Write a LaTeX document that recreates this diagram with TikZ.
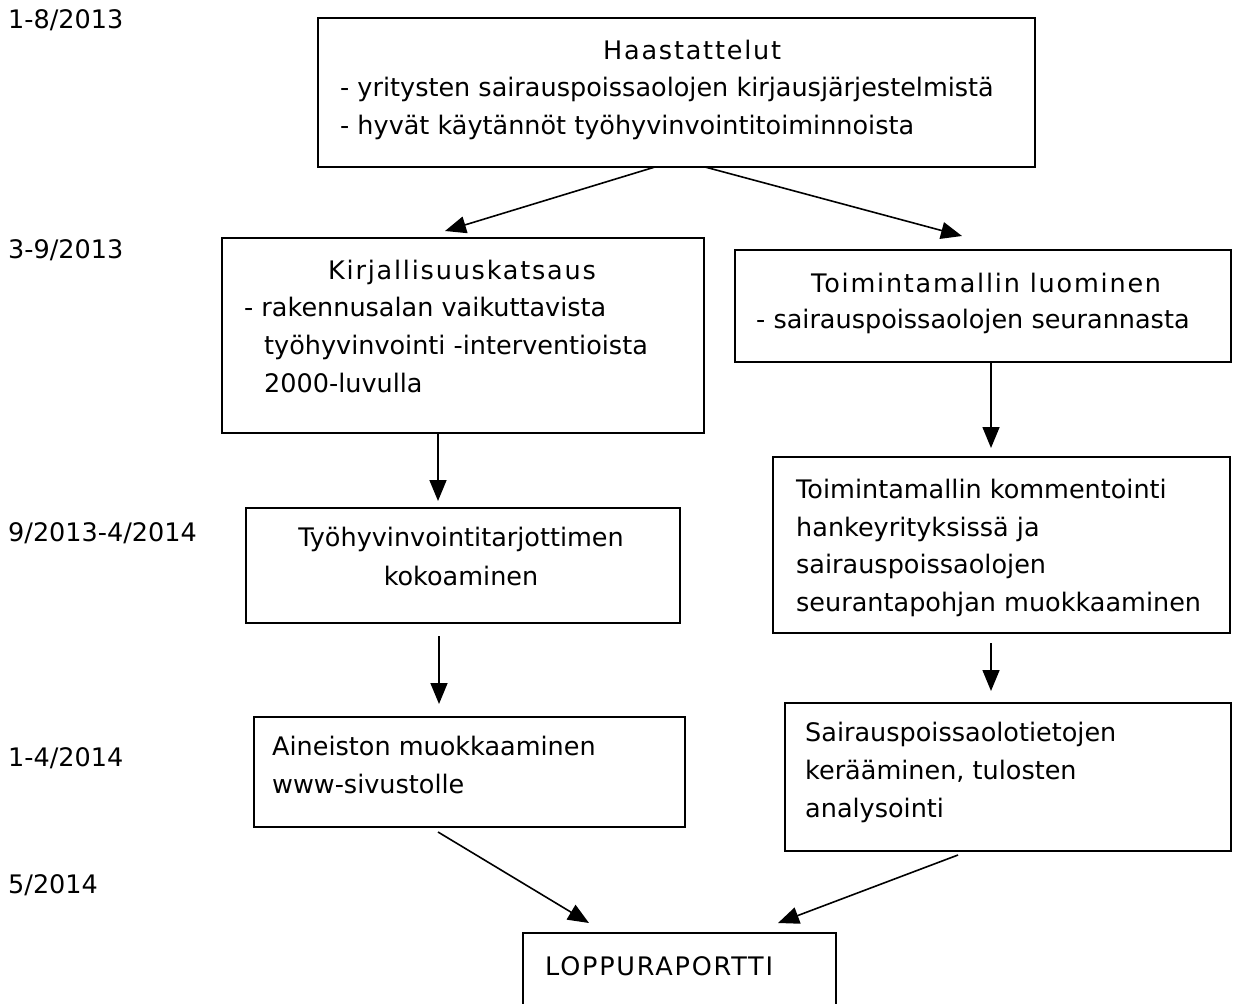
\documentclass[tikz,border=0pt]{standalone}
\usepackage{fontspec}
\setmainfont{DejaVu Sans}
\newfontfamily\spacedfont[LetterSpace=7]{DejaVu Sans}
\usetikzlibrary{arrows.meta,fit}
\begin{document}
\begin{tikzpicture}[x=1pt,y=-1pt,
  box/.style={draw=black,line width=2pt,inner sep=0pt},
  txt/.style={anchor=base west,inner sep=0pt,font=\fontsize{25.5}{30}\selectfont},
  ttl/.style={anchor=base west,inner sep=0pt,font=\spacedfont\fontsize{25.5}{30}\selectfont},
  ctxt/.style={anchor=base,inner sep=0pt,font=\fontsize{25.5}{30}\selectfont},
  arr/.style={line width=1.6pt,-{Triangle[length=21pt,width=17pt]}}]
\useasboundingbox (0,0) rectangle (1241,1003);
% date labels
\node[txt] (d1) at (8,29) {1-8/2013};
\node[txt] (d2) at (8,258) {3-9/2013};
\node[txt] (d3) at (8,541) {9/2013-4/2014};
\node[txt] (d4) at (8,766) {1-4/2014};
\node[txt] (d5) at (8,893) {5/2014};
% boxes
\node[box,fit={(318,18)(1035,167)}] (h) {};
\node[box,fit={(222,238)(704,433)}] (k) {};
\node[box,fit={(735,250)(1231,362)}] (t) {};
\node[box,fit={(246,508)(680,623)}] (w) {};
\node[box,fit={(773,457)(1230,633)}] (c) {};
\node[box,fit={(254,717)(685,827)}] (a) {};
\node[box,fit={(785,703)(1231,851)}] (s) {};
\node[box,fit={(523,933)(836,1010)}] (l) {};
% texts
\node[ttl] (h1) at (603,60) {Haastattelut};
\node[txt] (h2) at (340,97) {- yritysten sairauspoissaolojen kirjausjärjestelmistä};
\node[txt] (h3) at (340,135) {- hyvät käytännöt työhyvinvointitoiminnoista};
\node[ttl] (k1) at (328,279) {Kirjallisuuskatsaus};
\node[txt] (k2) at (244,316) {- rakennusalan vaikuttavista};
\node[txt] (k3) at (264,354) {työhyvinvointi -interventioista};
\node[txt] (k4) at (264,392) {2000-luvulla};
\node[ttl] (t1) at (811,292) {Toimintamallin luominen};
\node[txt] (t2) at (756,328) {- sairauspoissaolojen seurannasta};
\node[ctxt] (w1) at (461,546) {Työhyvinvointitarjottimen};
\node[ctxt] (w2) at (461,585) {kokoaminen};
\node[txt] (c1) at (796,498) {Toimintamallin kommentointi};
\node[txt] (c2) at (796,536) {hankeyrityksissä ja};
\node[txt] (c3) at (796,573) {sairauspoissaolojen};
\node[txt] (c4) at (796,611) {seurantapohjan muokkaaminen};
\node[txt] (a1) at (272,755) {Aineiston muokkaaminen};
\node[txt] (a2) at (272,793) {www-sivustolle};
\node[txt] (s1) at (805,741) {Sairauspoissaolotietojen};
\node[txt] (s2) at (805,779) {kerääminen, tulosten};
\node[txt] (s3) at (805,817) {analysointi};
\node[ttl] (l1) at (545,975) {LOPPURAPORTTI};
% connector end points
\coordinate (e1s) at (655,167); \coordinate (e1e) at (445,231);
\coordinate (e2s) at (705,167); \coordinate (e2e) at (962,236);
\coordinate (e3s) at (438,433); \coordinate (e3e) at (438,501);
\coordinate (e4s) at (991,362); \coordinate (e4e) at (991,448);
\coordinate (e5s) at (439,636); \coordinate (e5e) at (439,704);
\coordinate (e6s) at (991,643); \coordinate (e6e) at (991,691);
\coordinate (e7s) at (438,832); \coordinate (e7e) at (589,923);
\coordinate (e8s) at (958,855); \coordinate (e8e) at (778,923);
\draw[arr] (e1s) -- (e1e);
\draw[arr] (e2s) -- (e2e);
\draw[arr] (e3s) -- (e3e);
\draw[arr] (e4s) -- (e4e);
\draw[arr] (e5s) -- (e5e);
\draw[arr] (e6s) -- (e6e);
\draw[arr] (e7s) -- (e7e);
\draw[arr] (e8s) -- (e8e);
\end{tikzpicture}
\end{document}
